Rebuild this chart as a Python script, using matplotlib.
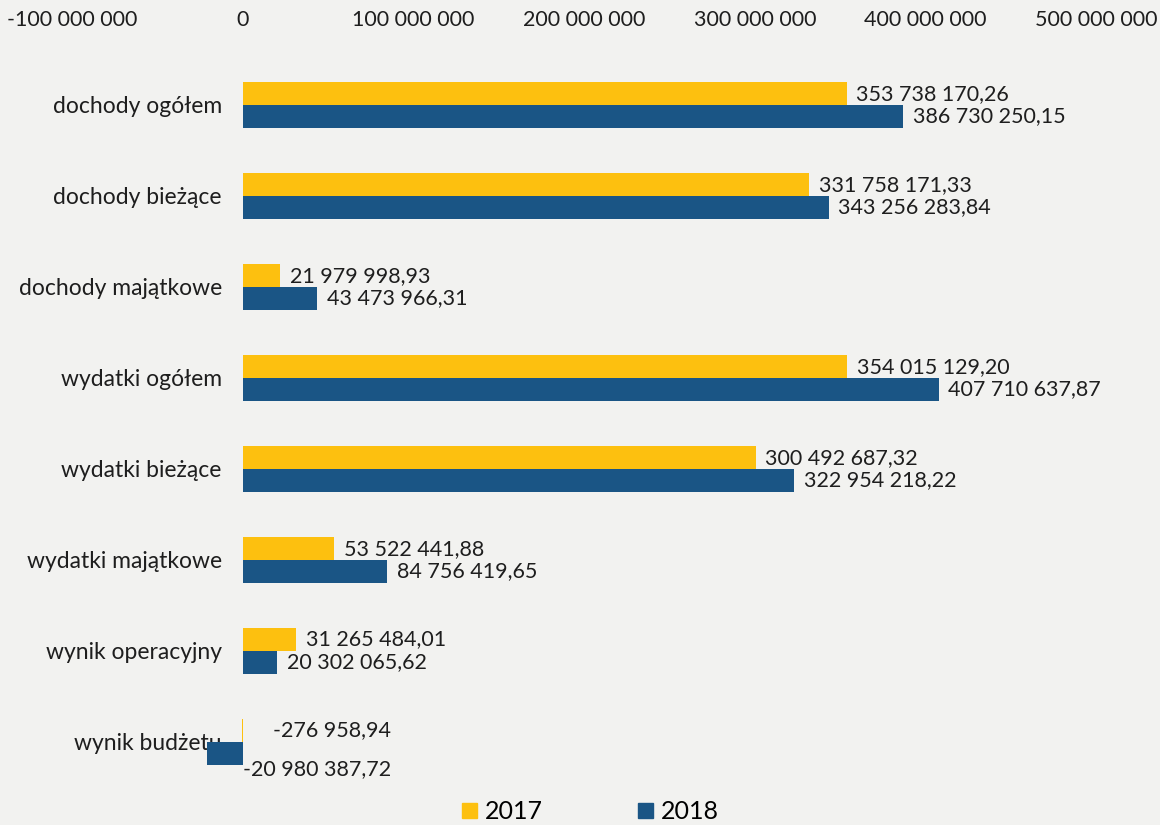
import numpy as np
import matplotlib
matplotlib.use('Agg')
import matplotlib.pyplot as plt
from matplotlib.patches import Patch
from matplotlib.ticker import FuncFormatter

categories = ['dochody ogółem', 'dochody bieżące', 'dochody majątkowe', 'wydatki ogółem',
              'wydatki bieżące', 'wydatki majątkowe', 'wynik operacyjny', 'wynik budżetu']
values_2017 = [353738170.26, 331758171.33, 21979998.93, 354015129.20,
               300492687.32, 53522441.88, 31265484.01, -276958.94]
values_2018 = [386730250.15, 343256283.84, 43473966.31, 407710637.87,
               322954218.22, 84756419.65, 20302065.62, -20980387.72]
series_names = ['2017', '2018']

yellow = '#fdc00f'
blue = '#1a5585'
bg = '#f2f2f0'
txt = '#1e1e1e'

plt.rcParams['font.family'] = ['Lato', 'DejaVu Sans']


def pl_num(v, dec=2):
    s = f"{abs(v):,.{dec}f}".replace(',', ' ').replace('.', ',')
    return ('-' if v < 0 else '') + s


fig = plt.figure(figsize=(11.6, 8.25), dpi=100, facecolor=bg)
ax = fig.add_axes([0.062, 0.0455, 0.883, 0.8824], facecolor=bg)

y = np.arange(len(categories))
h = 0.25
ax.barh(y - h / 2, values_2017, height=h, color=yellow, zorder=3)
ax.barh(y + h / 2, values_2018, height=h, color=blue, zorder=3)

ax.set_xlim(-100e6, 500e6)
ax.set_ylim(len(categories) - 0.5, -0.5)
ax.xaxis.tick_top()
ax.xaxis.set_major_formatter(FuncFormatter(lambda v, p: pl_num(v, 0)))
ax.set_xticks(np.arange(-100e6, 500e6 + 1, 100e6))
ax.tick_params(axis='x', length=0, pad=21, labelsize=15.5, colors=txt)

ax.set_yticks(y)
ax.set_yticklabels(categories)
ax.spines['left'].set_position(('data', 0))
ax.tick_params(axis='y', length=0, pad=15, labelsize=16.5, colors=txt)
for s in ax.spines.values():
    s.set_visible(False)

# data labels
for vals, off in ((values_2017, -h / 2), (values_2018, h / 2)):
    for i, v in enumerate(vals):
        if v >= 0:
            ax.annotate(pl_num(v), (v, i + off), xytext=(7, 0), textcoords='offset points',
                        ha='left', va='center', fontsize=15.5, color=txt)
        else:
            dy = -11 if off > 0 else 0
            ax.annotate(pl_num(v), (0, i + off), xytext=(107, dy), textcoords='offset points',
                        ha='right', va='center', fontsize=15.5, color=txt)

handles = [Patch(color=yellow), Patch(color=blue)]
fig.legend(handles, series_names, loc='center', bbox_to_anchor=(0.509, 0.016), ncol=2,
           frameon=False, fontsize=18, handlelength=0.6, handleheight=0.6,
           handletextpad=0.3, columnspacing=3.8)

fig.savefig('out.png', dpi=100, facecolor=bg)
